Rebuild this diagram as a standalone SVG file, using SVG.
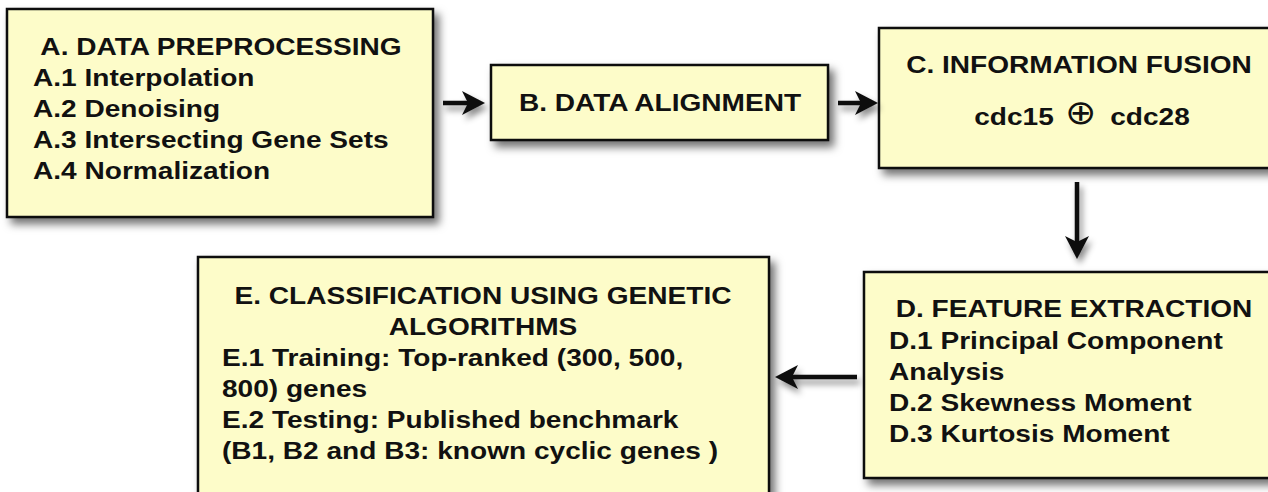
<svg xmlns="http://www.w3.org/2000/svg" width="1268" height="492" viewBox="0 0 1268 492">
  <defs>
    <filter id="shadow" x="-10%" y="-10%" width="130%" height="140%">
      <feDropShadow dx="5" dy="6" stdDeviation="4" flood-color="#000" flood-opacity="0.55"/>
    </filter>
    <filter id="arrowShadow" x="-30%" y="-60%" width="160%" height="220%">
      <feDropShadow dx="3" dy="5" stdDeviation="3" flood-color="#000" flood-opacity="0.45"/>
    </filter>
    <!-- tip sits 10px past the end of the shaft -->
    <marker id="head" viewBox="0 0 23 24" refX="13" refY="12" markerWidth="23" markerHeight="24" markerUnits="userSpaceOnUse" orient="auto">
      <path d="M0,0 L23,12 L0,24 L6,12 Z" fill="#111"/>
    </marker>
    <style>
      .box { fill: #fdfcc9; stroke: #111; stroke-width: 2.5; filter: url(#shadow); }
      .t { font-family: "Liberation Sans", Arial, Helvetica, sans-serif; font-weight: bold; font-size: 24px; fill: #111; }
      .mid { text-anchor: middle; }
      .sym { font-family: "DejaVu Sans", sans-serif; font-weight: 200; font-size: 34px; fill: #111; text-anchor: middle; }
      .conn { stroke: #111; stroke-width: 4.5; fill: none; marker-end: url(#head); }
    </style>
  </defs>

  <rect width="1268" height="492" fill="#ffffff"/>

  <!-- A: preprocessing -->
  <g id="nodeA">
    <rect class="box" x="7" y="9" width="426" height="208"/>
    <text class="t mid" transform="translate(221 55) scale(1.17 1)">A. DATA PREPROCESSING</text>
    <text class="t" transform="translate(33 86) scale(1.17 1)">A.1 Interpolation</text>
    <text class="t" transform="translate(33 117) scale(1.17 1)">A.2 Denoising</text>
    <text class="t" transform="translate(33 148) scale(1.17 1)">A.3 Intersecting Gene Sets</text>
    <text class="t" transform="translate(33 179) scale(1.17 1)">A.4 Normalization</text>
  </g>

  <!-- B: alignment -->
  <g id="nodeB">
    <rect class="box" x="491" y="65" width="337" height="75"/>
    <text class="t mid" transform="translate(660 111) scale(1.17 1)">B. DATA ALIGNMENT</text>
  </g>

  <!-- C: fusion -->
  <g id="nodeC">
    <rect class="box" x="879" y="28" width="400" height="140"/>
    <text class="t mid" transform="translate(1079 73) scale(1.17 1)">C. INFORMATION FUSION</text>
    <text class="t mid" transform="translate(1014 125) scale(1.17 1)">cdc15</text>
    <text class="sym" transform="translate(1081 124) scale(1.1 1)">⊕</text>
    <text class="t mid" transform="translate(1150 125) scale(1.17 1)">cdc28</text>
  </g>

  <!-- D: features -->
  <g id="nodeD">
    <rect class="box" x="864" y="272" width="420" height="206"/>
    <text class="t mid" transform="translate(1074 317) scale(1.17 1)">D. FEATURE EXTRACTION</text>
    <text class="t" transform="translate(889 349) scale(1.17 1)">D.1 Principal Component</text>
    <text class="t" transform="translate(889 380) scale(1.17 1)">Analysis</text>
    <text class="t" transform="translate(889 411) scale(1.17 1)">D.2 Skewness Moment</text>
    <text class="t" transform="translate(889 442) scale(1.17 1)">D.3 Kurtosis Moment</text>
  </g>

  <!-- E: classification -->
  <g id="nodeE">
    <rect class="box" x="198" y="257" width="571" height="260"/>
    <text class="t mid" transform="translate(483 304) scale(1.17 1)">E. CLASSIFICATION USING GENETIC</text>
    <text class="t mid" transform="translate(483 335) scale(1.17 1)">ALGORITHMS</text>
    <text class="t" transform="translate(222 366) scale(1.17 1)">E.1 Training: Top-ranked (300, 500,</text>
    <text class="t" transform="translate(222 397) scale(1.17 1)">800) genes</text>
    <text class="t" transform="translate(222 428) scale(1.17 1)">E.2 Testing: Published benchmark</text>
    <text class="t" transform="translate(222 459) scale(1.17 1)">(B1, B2 and B3: known cyclic genes )</text>
  </g>

  <!-- connectors -->
  <g id="connectors" filter="url(#arrowShadow)">
    <line class="conn" x1="443" y1="103" x2="475" y2="103"/>
    <line class="conn" x1="838" y1="103" x2="868" y2="103"/>
    <line class="conn" x1="1077" y1="182" x2="1077" y2="249"/>
    <line class="conn" x1="857" y1="377" x2="785" y2="377"/>
  </g>
</svg>
